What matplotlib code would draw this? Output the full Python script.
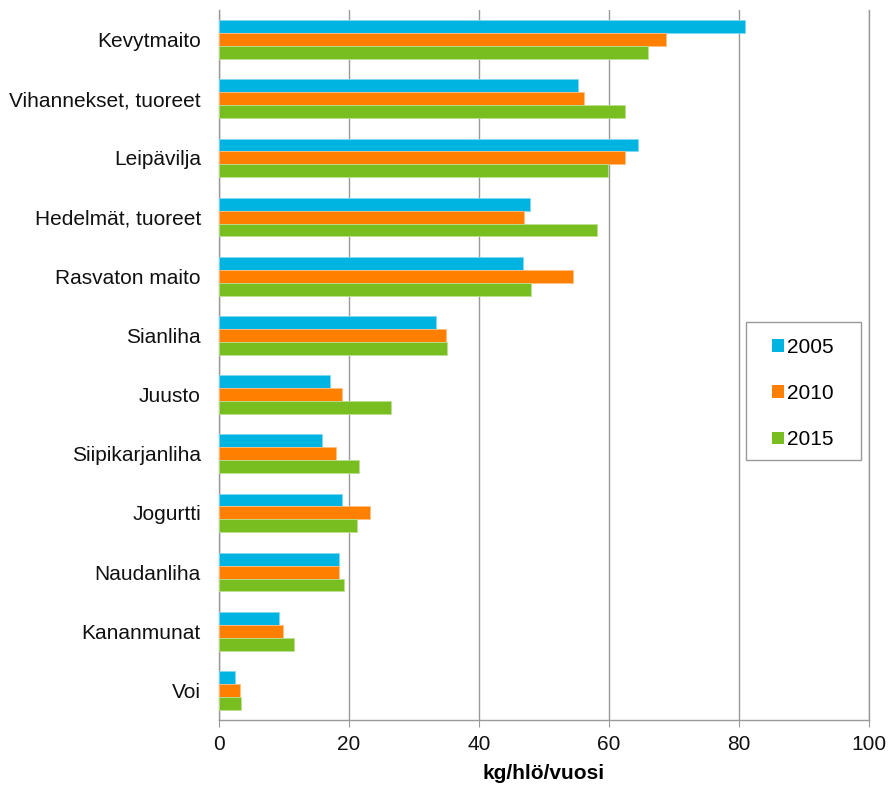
import matplotlib
matplotlib.use("Agg")
import matplotlib.pyplot as plt
from matplotlib.patches import Rectangle
import numpy as np

plt.rcParams['font.family'] = ['Liberation Sans', 'DejaVu Sans']

categories = ["Kevytmaito", "Vihannekset, tuoreet", "Leipävilja", "Hedelmät, tuoreet",
              "Rasvaton maito", "Sianliha", "Juusto", "Siipikarjanliha", "Jogurtti",
              "Naudanliha", "Kananmunat", "Voi"]
years = ["2005", "2010", "2015"]
values_2005 = [81.0, 55.2, 64.5, 47.8, 46.8, 33.4, 17.1, 15.9, 19.0, 18.5, 9.2, 2.5]
values_2010 = [68.7, 56.1, 62.5, 47.0, 54.4, 34.9, 18.9, 18.0, 23.3, 18.5, 9.8, 3.2]
values_2015 = [66.0, 62.4, 59.9, 58.2, 48.0, 35.1, 26.5, 21.5, 21.2, 19.2, 11.5, 3.4]
x_ticks = [0, 20, 40, 60, 80, 100]
x_label = "kg/hlö/vuosi"

colors = ["#00B4E1", "#FF8000", "#78BE21"]
edges = ["#7FD8EF", "#FFBF80", "#BBDE90"]
axis_gray = "#999999"
fs = 15

fig = plt.figure(figsize=(8.88, 7.86), dpi=100)
ax = fig.add_axes([0.2466, 0.084, 0.732, 0.9033])

n = len(categories)
pos = np.arange(n)
h = 0.218
series = [values_2005, values_2010, values_2015]
for i, (vals, c, e, lab) in enumerate(zip(series, colors, edges, years)):
    ax.barh(pos + (i - 1) * h, vals, height=h, color=c, edgecolor=e,
            linewidth=0.6, label=lab, zorder=3)

ax.set_ylim(n - 0.5, -0.5)
ax.set_xlim(0, 100)
ax.set_yticks(pos)
ax.set_yticklabels(categories, fontsize=fs, color="#111111")
ax.set_xticks(x_ticks)
ax.set_xticklabels([str(t) for t in x_ticks], fontsize=fs, color="#111111")
ax.tick_params(axis='y', length=0, pad=13)
ax.tick_params(axis='x', length=5, color=axis_gray, pad=6)
ax.set_xlabel(x_label, fontsize=fs, fontweight='bold', labelpad=7)

ax.grid(axis='x', color=axis_gray, linewidth=1.0, zorder=0)
ax.spines["top"].set_visible(False)
for side in ["left", "bottom", "right"]:
    ax.spines[side].set_color(axis_gray)
    ax.spines[side].set_linewidth(1.0)

# legend box
ax.add_patch(Rectangle((0.811, 0.366), 0.177, 0.195, transform=ax.transAxes,
                       facecolor="white", edgecolor=axis_gray, linewidth=1.0,
                       zorder=4, clip_on=False))
leg = ax.legend(loc='upper left', bbox_to_anchor=(0.851, 0.538), frameon=False,
                fontsize=fs, handlelength=0.55, handleheight=0.55, handletextpad=0.15,
                labelspacing=1.3, borderpad=0, borderaxespad=0)
leg.set_zorder(5)
for p in leg.get_patches():
    p.set_edgecolor('none')

fig.savefig("out.png", dpi=100, facecolor="white")
